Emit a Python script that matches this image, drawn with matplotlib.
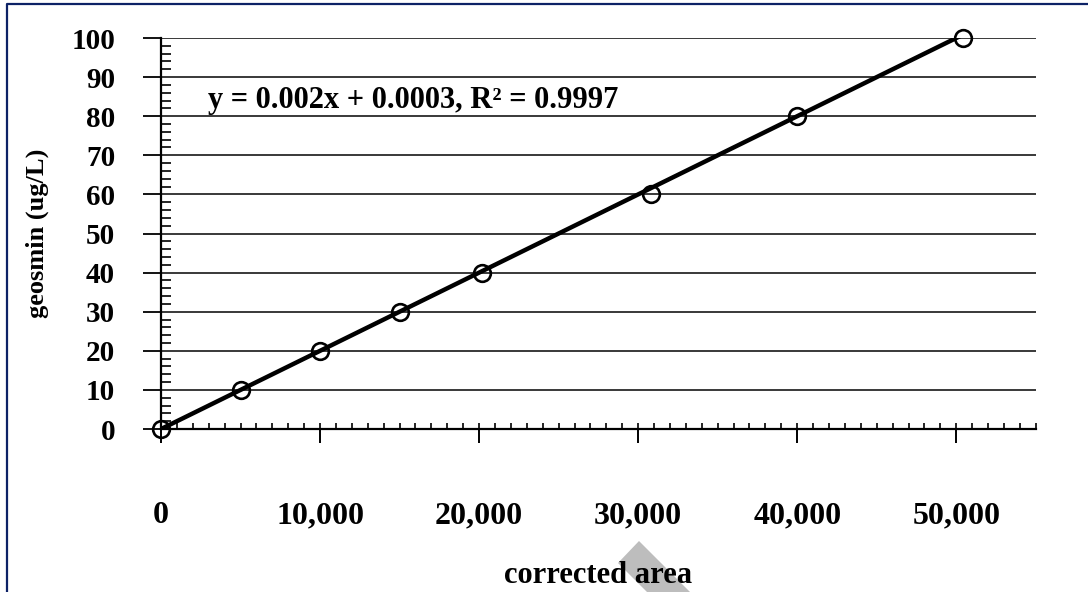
import matplotlib
matplotlib.use("Agg")
import matplotlib.pyplot as plt
from matplotlib.ticker import MultipleLocator, FixedLocator, FixedFormatter
from matplotlib.lines import Line2D
from matplotlib.patches import Polygon
import numpy as np

################# calibration data #################
area = [0, 5000, 10000, 15000, 20200, 30800, 40000, 50400]
geosmin = [0, 10, 20, 30, 40, 60, 80, 100]
slope = 0.002
intercept = 0.0003
r_squared = 0.9997
x_tick_values = [0, 10000, 20000, 30000, 40000, 50000]
x_tick_labels = ["0", "10,000", "20,000", "30,000", "40,000", "50,000"]
y_tick_values = [0, 10, 20, 30, 40, 50, 60, 70, 80, 90, 100]
################# calibration data #################

plt.rcParams['font.family'] = ['Liberation Serif', 'DejaVu Serif']
plt.rcParams['font.weight'] = 'bold'

fig = plt.figure(figsize=(10.88, 5.92), dpi=100)
ax = fig.add_axes([0.148, 0.2753, 0.804, 0.6605])

# trendline from the fitted coefficients, then the measured points
fit_x = np.array([min(area), max(area)])
fit_y = slope * fit_x + intercept
ax.plot(fit_x, fit_y, color='black', lw=3.2, solid_capstyle='round', zorder=3)
ax.plot(area, geosmin, linestyle='none', marker='o', markersize=12,
        markerfacecolor='none', markeredgecolor='black', markeredgewidth=1.9,
        clip_on=False, zorder=4)

ax.set_xlim(0, 55000)
ax.set_ylim(0, 100)

# horizontal grid only
for v in y_tick_values[1:]:
    ax.axhline(v, color='#2a2a2a', lw=1.3, zorder=1)

for side in ['top', 'right']:
    ax.spines[side].set_visible(False)
ax.spines['left'].set_linewidth(1.6)
ax.spines['bottom'].set_linewidth(1.6)

ax.xaxis.set_major_locator(FixedLocator(x_tick_values))
ax.xaxis.set_major_formatter(FixedFormatter(x_tick_labels))
ax.xaxis.set_minor_locator(MultipleLocator(1000))
ax.xaxis.remove_overlapping_locs = False
ax.yaxis.set_major_locator(FixedLocator(y_tick_values))
ax.yaxis.set_minor_locator(MultipleLocator(2))

ax.tick_params(axis='x', which='major', direction='out', length=10, width=1.4,
               pad=42, labelsize=23)
ax.tick_params(axis='x', which='minor', direction='in', length=4.5, width=1.2)
ax.tick_params(axis='y', which='major', direction='out', length=13, width=1.3,
               pad=20, labelsize=21)
ax.tick_params(axis='y', which='minor', direction='in', length=7, width=1.2)

ax.set_xlabel('corrected area', fontsize=22, fontweight='bold', labelpad=22)
ax.set_ylabel('geosmin (ug/L)', fontsize=19, fontweight='bold', labelpad=16)

ax.text(2950, 82, f'y = {slope}x + {intercept}, R² = {r_squared}',
        fontsize=22, fontweight='bold', va='baseline', ha='left', zorder=5)

# page frame and grey mark from the scanned sheet
fig.add_artist(Line2D([7, 7, 1088], [0, 588, 588], transform=None,
                      color='#0d2266', lw=1.6))
fig.patches.append(Polygon([[639, 51], [618, 29], [647, 0], [690, 0]],
                           closed=True, transform=None, facecolor='#bdbdbd',
                           edgecolor='none', zorder=-1))

fig.savefig('out.png', dpi=100)
